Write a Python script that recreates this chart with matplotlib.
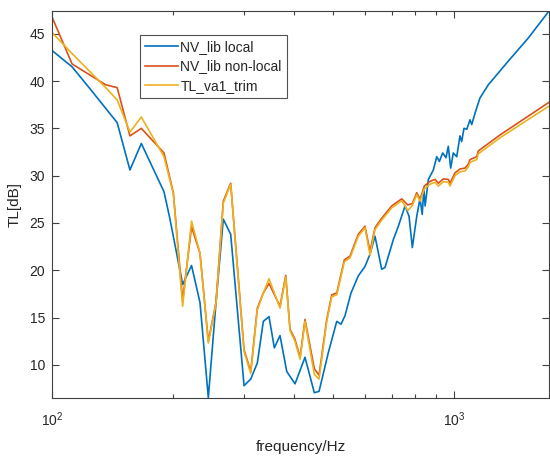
import matplotlib
matplotlib.use("Agg")
import matplotlib.pyplot as plt
from matplotlib.ticker import LogLocator, NullFormatter, FixedLocator

plt.rcParams['font.family'] = ['Liberation Sans', 'DejaVu Sans']

# ---- data ----
f_local = [100, 112, 124, 145, 156, 166.5, 189.6, 196, 211, 222, 233, 244.4, 255.4,
           266.3, 277.8, 299.9, 311.6, 323.6, 334.9, 346, 356.7, 368.5, 383, 401.6,
           425.2, 448.5, 460.8, 486, 510, 522.7, 534.7, 553.4, 576.9, 599.5, 617,
           634.9, 659.8, 672.4, 705.3, 725.7, 754.1, 771.6, 786.3, 806.4, 821.8,
           832, 840, 846, 862, 886.8, 904.3, 917.9, 935.7, 953.5, 966.1, 979.5,
           994.3, 1014, 1033, 1043, 1057, 1074, 1094, 1105, 1126, 1158, 1215,
           1362, 1528, 1720]
tl_local = [43.2, 41.5, 39.2, 35.6, 30.6, 33.4, 28.3, 25.5, 18.5, 20.5, 16.6, 6.53, 16.6,
            25.4, 23.8, 7.8, 8.5, 10.2, 14.6, 15.1, 11.8, 13.1, 9.3, 8.0,
            10.8, 7.06, 7.2, 11.3, 14.6, 14.3, 15.2, 17.6, 19.4, 20.4, 21.7,
            23.6, 20.1, 20.3, 23.25, 24.65, 26.8, 25.7, 22.4, 25.7, 27.6,
            25.9, 28.6, 26.8, 29.6, 30.6, 32.0, 31.5, 32.4, 31.9, 33.1, 30.8,
            32.4, 32.0, 34.2, 33.6, 35.0, 34.9, 35.9, 35.4, 36.6, 38.2, 39.6,
            42.1, 44.55, 47.4]

f_nonlocal = [100, 112, 135.8, 145, 156, 166.5, 189.6, 200, 211, 222, 233, 244.4, 255.4,
              266.3, 277.8, 299.9, 311.6, 323.6, 334.9, 346, 368.5, 380.8, 390.3,
              401.6, 413.3, 425.2, 448.5, 460.8, 481.6, 495.5, 510, 532.6, 550.3,
              576.9, 599.5, 617, 634.9, 659.8, 698.8, 740, 765.9, 786.3, 806.4,
              821.8, 842.3, 870.3, 895.5, 912.6, 938.9, 966.1, 975.7, 1004, 1033,
              1063, 1083, 1094, 1137, 1147, 1299, 1720]
tl_nonlocal = [46.7, 41.8, 39.6, 39.3, 34.2, 35.0, 32.4, 28.2, 16.8, 24.6, 21.8, 12.5, 16.6,
               27.3, 29.2, 11.6, 9.3, 16.0, 17.6, 18.6, 16.2, 19.45, 13.75,
               12.7, 10.8, 14.8, 9.6, 8.9, 14.8, 17.4, 17.6, 21.1, 21.5,
               23.8, 24.65, 22.0, 24.5, 25.5, 26.8, 27.55, 26.9, 27.05, 28.2,
               27.5, 28.9, 29.4, 29.6, 29.2, 29.65, 29.6, 29.2, 30.3, 30.7,
               30.8, 31.2, 31.7, 32.0, 32.6, 34.3, 37.75]

f_trim = f_nonlocal
tl_trim = [45.1, 42.9, 39.3, 38.0, 34.6, 36.2, 32.0, 28.1, 16.2, 25.2, 21.8, 12.3, 16.5,
           27.1, 29.1, 11.4, 9.1, 15.8, 17.6, 19.1, 16.0, 19.3, 13.6,
           12.5, 10.6, 14.6, 9.0, 8.5, 14.6, 17.2, 17.4, 20.9, 21.3,
           23.6, 24.5, 21.6, 24.3, 25.3, 26.6, 27.35, 26.3, 26.85, 28.0,
           27.3, 28.6, 29.1, 29.3, 28.9, 29.35, 29.3, 28.9, 30.0, 30.4,
           30.5, 30.9, 31.4, 31.7, 32.3, 34.0, 37.35]

labels = ['NV\\_lib local', 'NV\\_lib non-local', 'TL\\_va1\\_trim']
colors = ['#0072BD', '#D95319', '#EDB120']

# ---- figure ----
fig = plt.figure(figsize=(5.5, 4.57), dpi=100)
ax = fig.add_axes([52.3 / 550, 1 - 398 / 457, (549 - 52.3) / 550, (398 - 11) / 457])

ax.plot(f_local, tl_local, color=colors[0], lw=1.2, label='NV_lib local')
ax.plot(f_nonlocal, tl_nonlocal, color=colors[1], lw=1.2, label='NV_lib non-local')
ax.plot(f_trim, tl_trim, color=colors[2], lw=1.2, label='TL_va1_trim')

ax.set_xscale('log')
ax.set_xlim(100, 1720)
ax.set_ylim(6.5, 47.4)
ax.set_yticks([10, 15, 20, 25, 30, 35, 40, 45])
ax.xaxis.set_major_locator(FixedLocator([100, 1000]))
ax.xaxis.set_minor_locator(LogLocator(base=10, subs=range(2, 10)))
ax.xaxis.set_minor_formatter(NullFormatter())

axc = '#404040'
for s in ax.spines.values():
    s.set_color(axc)
    s.set_linewidth(0.8)
ax.tick_params(which='both', direction='in', top=True, right=True, color=axc,
               labelcolor='#262626', labelsize=10)
ax.tick_params(which='major', length=5, width=0.8)
ax.tick_params(which='minor', length=3, width=0.8)
ax.tick_params(axis='x', pad=9)
ax.tick_params(axis='y', pad=5)

ax.set_xlabel('frequency/Hz', fontsize=11, color='#262626', labelpad=8)
ax.set_ylabel('TL[dB]', fontsize=11, color='#262626', labelpad=6)

leg = ax.legend(loc='upper left', bbox_to_anchor=(0.1766, 0.938), fontsize=10,
                frameon=True, fancybox=False, shadow=False, borderaxespad=0,
                handlelength=2.4, handletextpad=0.15, labelspacing=0.4,
                borderpad=0.35)
leg.get_frame().set_edgecolor('#262626')
leg.get_frame().set_linewidth(0.8)
for t in leg.get_texts():
    t.set_color('#262626')

fig.savefig('out.png', dpi=100)
